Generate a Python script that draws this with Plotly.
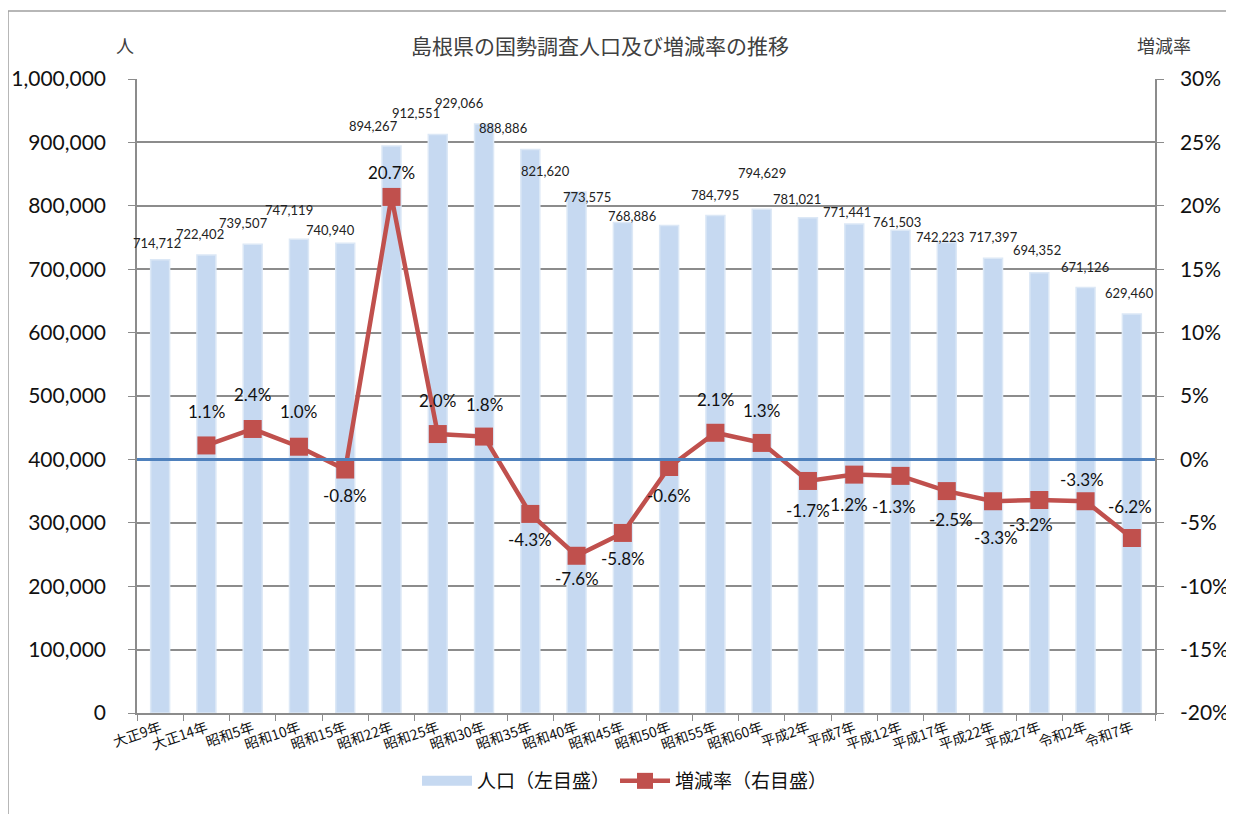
import plotly.graph_objects as go

categories = ["大正9年", "大正14年", "昭和5年", "昭和10年", "昭和15年", "昭和22年", "昭和25年",
              "昭和30年", "昭和35年", "昭和40年", "昭和45年", "昭和50年", "昭和55年", "昭和60年",
              "平成2年", "平成7年", "平成12年", "平成17年", "平成22年", "平成27年", "令和2年", "令和7年"]
population = [714712, 722402, 739507, 747119, 740940, 894267, 912551, 929066, 888886, 821620,
              773575, 768886, 784795, 794629, 781021, 771441, 761503, 742223, 717397, 694352,
              671126, 629460]
rate = [None, 1.1, 2.4, 1.0, -0.8, 20.7, 2.0, 1.8, -4.3, -7.6, -5.8, -0.6, 2.1, 1.3,
        -1.7, -1.2, -1.3, -2.5, -3.3, -3.2, -3.3, -6.2]
y_ticks_left = list(range(0, 1000001, 100000))
y_ticks_right = list(range(-20, 31, 5))
y_ticktext_right = [f"{v}%" for v in y_ticks_right]

# label offsets (pixels) for data labels
pop_dx = [-3, -6, -9, -10, -15, -18, -22, -25, -27, -31, -36, -37, 0, 0, -11, -7, -4, -7, 0, -2, -1, -2]
pop_dy = [-17, -21, -21, -29, -13, -20, -21, -21, -21, -21, -26, -10, -20, -36, -19, -12, -8, -5, -21, -23, -21, -21]
rate_dx = [0, 0, 0, 0, 0, 0, 0, 0, 0, 0, 0, 0, 0, 0, 0, -8, -7, 4, 3, -8, -4, -2]
rate_dy = [0, -34, -34, -35, 26, -24, -34, -32, 26, 23, 26, 28, -33, -32, 30, 30, 31, 28, 36, 25, -22, -32]

NUM_FONT = "Lato, 'Open Sans', sans-serif"
JP_FONT = "'Noto Sans CJK JP', sans-serif"
GRID = "#8c8c8c"
BAR_COLOR = "#C6D9F1"
LINE_COLOR = "#C0504D"

# the page body has an 8px margin; compensate so the plot lands where the reference has it
PAGE_OFF = 8
L, R, T, B = 137 - PAGE_OFF, 79 + PAGE_OFF, 79 - PAGE_OFF, 101 + PAGE_OFF
PW, PH = 1234 - L - R, 814 - T - B

fig = go.Figure()
fig.add_trace(go.Bar(
    x=categories, y=population, name="人口（左目盛）", showlegend=False,
    marker=dict(color=BAR_COLOR, line=dict(color="#DCE8F6", width=1.5)),
    yaxis="y",
))
# legend entry for bars (wide swatch like the reference)
fig.add_trace(go.Scatter(
    x=[None], y=[None], name="人口（左目盛）", mode="lines",
    line=dict(color=BAR_COLOR, width=12), yaxis="y",
))
fig.add_trace(go.Scatter(
    x=categories, y=rate, name="増減率（右目盛）", yaxis="y2", mode="lines+markers",
    line=dict(color=LINE_COLOR, width=4.5),
    marker=dict(symbol="square", size=18, color=LINE_COLOR),
    connectgaps=False,
))

annotations = []
for i, (c, v) in enumerate(zip(categories, population)):
    annotations.append(dict(x=c, y=v, xref="x", yref="y", text=f"{v:,}", showarrow=False,
                            xshift=pop_dx[i], yshift=-pop_dy[i], yanchor="middle",
                            font=dict(family=NUM_FONT, size=13, color="#222")))
for i, (c, r) in enumerate(zip(categories, rate)):
    if r is None:
        continue
    annotations.append(dict(x=c, y=r, xref="x", yref="y2", text=f"{r:.1f}%", showarrow=False,
                            xshift=rate_dx[i], yshift=-rate_dy[i], yanchor="middle",
                            font=dict(family=NUM_FONT, size=17, color="#111")))

def px_x(p):
    return (p - 137) / PW

def px_y(p):
    return (713 - p) / PH

annotations += [
    dict(x=px_x(600), y=px_y(45), xref="paper", yref="paper", text="島根県の国勢調査人口及び増減率の推移",
         showarrow=False, font=dict(family=JP_FONT, size=21, color="#404040"),
         xanchor="center", yanchor="middle"),
    dict(x=px_x(125), y=px_y(45), xref="paper", yref="paper", text="人",
         showarrow=False, font=dict(family=JP_FONT, size=18, color="#404040"),
         xanchor="center", yanchor="middle"),
    dict(x=px_x(1164), y=px_y(45), xref="paper", yref="paper", text="増減率",
         showarrow=False, font=dict(family=JP_FONT, size=18, color="#404040"),
         xanchor="center", yanchor="middle"),
]

fig.update_layout(
    width=1234, height=814,
    margin=dict(l=L, r=R, t=T, b=B, autoexpand=False),
    paper_bgcolor="white", plot_bgcolor="white",
    bargap=0.59,
    showlegend=True,
    legend=dict(orientation="h", x=px_x(625), xanchor="center", y=px_y(781), yanchor="middle",
                font=dict(family=JP_FONT, size=19, color="#111"), itemwidth=50,
                traceorder="normal"),
    xaxis=dict(type="category", range=[-0.5, 21.5], autorange=False, automargin=False,
               showline=True, linecolor=GRID, linewidth=1.5,
               ticks="outside", tickson="boundaries", ticklen=6, tickcolor=GRID,
               tickangle=-19, tickfont=dict(family=JP_FONT, size=14, color="#111"),
               showgrid=False),
    yaxis=dict(range=[0, 1000000], autorange=False, automargin=False,
               tickvals=y_ticks_left, tickformat=",",
               showline=True, linecolor=GRID, linewidth=1.5, ticks="outside", ticklen=7,
               tickcolor=GRID, gridcolor=GRID, gridwidth=1.5, ticklabelstandoff=18,
               tickfont=dict(family=NUM_FONT, size=21, color="#111"), zeroline=False),
    yaxis2=dict(range=[-20, 30], autorange=False, automargin=False,
                tickmode="array", tickvals=y_ticks_right, ticktext=y_ticktext_right,
                overlaying="y", side="right", showline=True, linecolor=GRID, linewidth=1.5,
                ticks="outside", ticklen=7, tickcolor=GRID, showgrid=False, zeroline=False,
                ticklabelstandoff=12,
                tickfont=dict(family=NUM_FONT, size=21, color="#111")),
    annotations=annotations,
    shapes=[
        dict(type="line", xref="paper", yref="y2", x0=0, x1=1, y0=0, y1=0,
             line=dict(color="#4F81BD", width=3), layer="above"),
        dict(type="rect", xref="paper", yref="paper",
             x0=px_x(8), x1=px_x(1250), y0=px_y(830), y1=px_y(11),
             line=dict(color="#a0a0a0", width=1.5), layer="below"),
    ],
)

fig.write_html("out.html")
